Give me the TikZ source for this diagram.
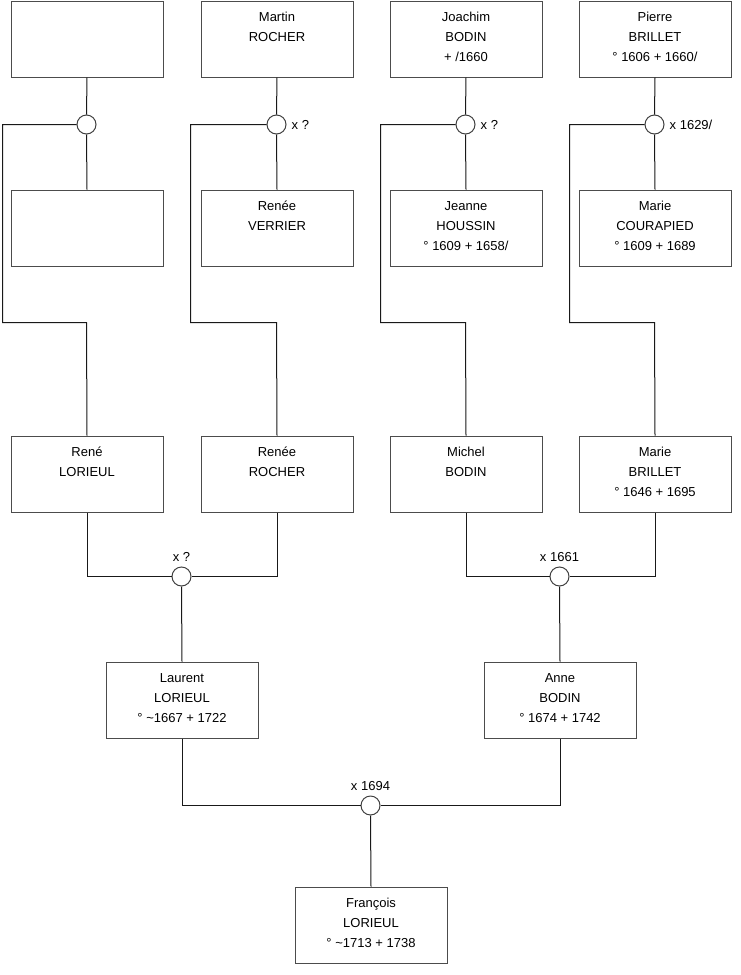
\documentclass[tikz,border=0pt]{standalone}
\usepackage{fontspec}
\setmainfont{Liberation Sans}
\begin{document}
\begin{tikzpicture}[x=1pt,y=-1pt,
  person/.style={draw=black!70, line width=1pt, inner sep=0pt, anchor=north west,
    font=\fontsize{13}{20}\selectfont},
  couple/.style={circle, draw=black!75, fill=white, line width=1pt, minimum size=19pt, inner sep=0pt},
  link/.style={draw=black!90, line width=1pt},
  mlabel/.style={font=\fontsize{13}{15}\selectfont, inner sep=0pt}]
\newcommand{\ptext}[1]{\parbox[c][76pt][t]{152pt}{\centering\rule{0pt}{20pt}#1}}
\useasboundingbox (0,0) rectangle (740,975);
\begin{scope}[shift={(0.5,0.5)}]
% row 1
\node[person] (p1) at (10,0) {\ptext{}};
\node[person] (p2) at (200,0) {\ptext{Martin\\ROCHER}};
\node[person] (p3) at (389,0) {\ptext{Joachim\\BODIN\\+ /1660}};
\node[person] (p4) at (578,0) {\ptext{Pierre\\BRILLET\\° 1606 + 1660/}};
% row 2
\node[person] (q1) at (10,189) {\ptext{}};
\node[person] (q2) at (200,189) {\ptext{Renée\\VERRIER}};
\node[person] (q3) at (389,189) {\ptext{Jeanne\\HOUSSIN\\° 1609 + 1658/}};
\node[person] (q4) at (578,189) {\ptext{Marie\\COURAPIED\\° 1609 + 1689}};
% row 3
\node[person] (r1) at (10,435) {\ptext{René\\LORIEUL}};
\node[person] (r2) at (200,435) {\ptext{Renée\\ROCHER}};
\node[person] (r3) at (389,435) {\ptext{Michel\\BODIN}};
\node[person] (r4) at (578,435) {\ptext{Marie\\BRILLET\\° 1646 + 1695}};
% row 4
\node[person] (s1) at (105,661) {\ptext{Laurent\\LORIEUL\\° \textasciitilde1667 + 1722}};
\node[person] (s2) at (483,661) {\ptext{Anne\\BODIN\\° 1674 + 1742}};
% row 5
\node[person] (t1) at (294,886) {\ptext{François\\LORIEUL\\° \textasciitilde1713 + 1738}};

% couple circles
\node[couple] (c1) at (86,124) {};
\node[couple] (c2) at (276,124) {};
\node[couple] (c3) at (465,124) {};
\node[couple] (c4) at (654,124) {};
\node[couple] (d1) at (181,576) {};
\node[couple] (d2) at (559,576) {};
\node[couple] (e1) at (370,805) {};

% labels
\node[mlabel, anchor=west] (l2) at ([xshift=5pt]c2.east) {x ?};
\node[mlabel, anchor=west] (l3) at ([xshift=5pt]c3.east) {x ?};
\node[mlabel, anchor=west] (l4) at ([xshift=5pt]c4.east) {x 1629/};
\node[mlabel, anchor=base] (m1) at ([yshift=5pt]d1.north) {x ?};
\node[mlabel, anchor=base] (m2) at ([yshift=5pt]d2.north) {x 1661};
\node[mlabel, anchor=base] (n1) at ([yshift=5pt]e1.north) {x 1694};

% corner coordinates
\coordinate (k1a) at (2,124);   \coordinate (k1b) at (2,322);   \coordinate (k1c) at (86,322);
\coordinate (k2a) at (190,124); \coordinate (k2b) at (190,322); \coordinate (k2c) at (276,322);
\coordinate (k3a) at (380,124); \coordinate (k3b) at (380,322); \coordinate (k3c) at (465,322);
\coordinate (k4a) at (569,124); \coordinate (k4b) at (569,322); \coordinate (k4c) at (654,322);

% connectors row 1-2
\draw[link] (p1.south) -- (c1.north);
\draw[link] (c1.south) -- (q1.north);
\draw[link] (c1.west) -- (k1a) -- (k1b) -- (k1c) -- (r1.north);
\draw[link] (p2.south) -- (c2.north);
\draw[link] (c2.south) -- (q2.north);
\draw[link] (c2.west) -- (k2a) -- (k2b) -- (k2c) -- (r2.north);
\draw[link] (p3.south) -- (c3.north);
\draw[link] (c3.south) -- (q3.north);
\draw[link] (c3.west) -- (k3a) -- (k3b) -- (k3c) -- (r3.north);
\draw[link] (p4.south) -- (c4.north);
\draw[link] (c4.south) -- (q4.north);
\draw[link] (c4.west) -- (k4a) -- (k4b) -- (k4c) -- (r4.north);
% row 3
\draw[link] (r1.south) |- (d1.west);
\draw[link] (r2.south) |- (d1.east);
\draw[link] (d1.south) -- (s1.north);
\draw[link] (r3.south) |- (d2.west);
\draw[link] (r4.south) |- (d2.east);
\draw[link] (d2.south) -- (s2.north);
% row 4
\draw[link] (s1.south) |- (e1.west);
\draw[link] (s2.south) |- (e1.east);
\draw[link] (e1.south) -- (t1.north);
\end{scope}
\end{tikzpicture}
\end{document}
